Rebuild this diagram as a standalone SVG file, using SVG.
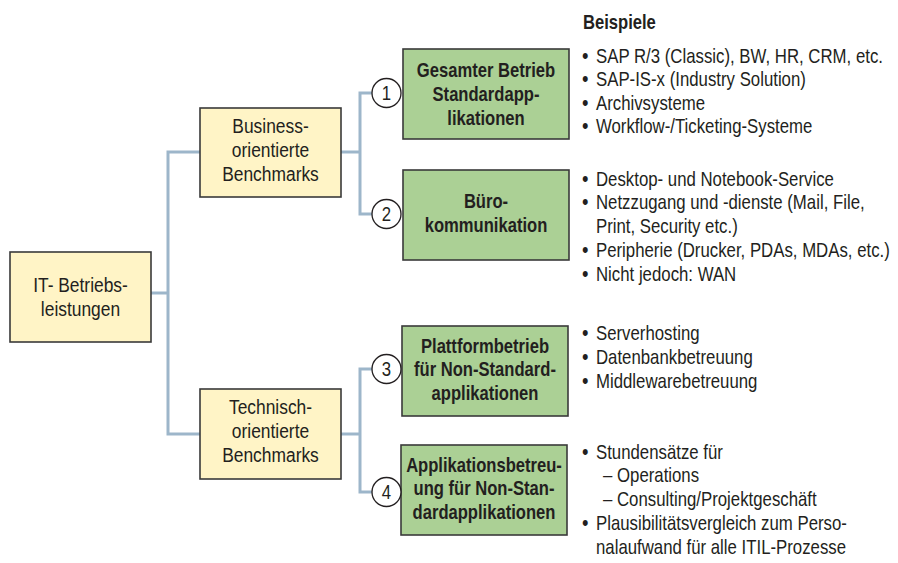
<svg xmlns="http://www.w3.org/2000/svg" width="898" height="563" viewBox="0 0 898 563">
<style>
text{font-family:"Liberation Sans",Arial,sans-serif;font-size:20px;fill:#231f20;transform-box:fill-box;transform-origin:0 50%;transform:scaleX(0.84)}
.c{text-anchor:middle;transform-origin:50% 50%}
.k{transform:scaleX(0.87)}
.b{font-weight:bold;transform:scaleX(0.83)}
.d{font-size:22px}
.y{fill:#fff4c6;stroke:#3a3a3a;stroke-width:1.6}
.g{fill:#abd095;stroke:#3a3a3a;stroke-width:1.6}
.n{fill:#fff;stroke:#231f20;stroke-width:1.3}
.con{fill:none;stroke:#9db6ca;stroke-width:3}
</style>
<rect width="898" height="563" fill="#fff"/>
<g id="connectors" class="con">
<path d="M151 293H168"/>
<path d="M200 152H168V434H200"/>
<path d="M341 152H360"/>
<path d="M372 93H360V214H372"/>
<path d="M341 434H360"/>
<path d="M372 369H360V492H372"/>
</g>
<g id="it">
<rect class="y" x="10" y="252" width="141" height="90"/>
<text class="c k" x="80.5" y="292">IT- Betriebs-</text>
<text class="c k" x="80.5" y="316">leistungen</text>
</g>
<g id="business">
<rect class="y" x="200" y="108" width="141" height="89"/>
<text class="c k" x="270.5" y="133">Business-</text>
<text class="c k" x="270.5" y="157">orientierte</text>
<text class="c k" x="270.5" y="181">Benchmarks</text>
</g>
<g id="technisch">
<rect class="y" x="200" y="389" width="141" height="90"/>
<text class="c k" x="270.5" y="414">Technisch-</text>
<text class="c k" x="270.5" y="438">orientierte</text>
<text class="c k" x="270.5" y="462">Benchmarks</text>
</g>
<g id="n1">
<rect class="g" x="403" y="49" width="166" height="90"/>
<text class="c b" x="486" y="77">Gesamter Betrieb</text>
<text class="c b" x="486" y="101">Standardapp-</text>
<text class="c b" x="486" y="125">likationen</text>
<circle class="n" cx="386.5" cy="93" r="14.5"/>
<text class="c" x="386.5" y="100">1</text>
</g>
<g id="n2">
<rect class="g" x="403" y="170" width="166" height="90"/>
<text class="c b" x="486" y="208">Büro-</text>
<text class="c b" x="486" y="232">kommunikation</text>
<circle class="n" cx="386.5" cy="214" r="14.5"/>
<text class="c" x="386.5" y="221">2</text>
</g>
<g id="n3">
<rect class="g" x="402" y="326" width="166" height="90"/>
<text class="c b" x="485" y="353">Plattformbetrieb</text>
<text class="c b" x="485" y="376.5">für Non-Standard-</text>
<text class="c b" x="485" y="400">applikationen</text>
<circle class="n" cx="386.5" cy="369" r="14.5"/>
<text class="c" x="386.5" y="376">3</text>
</g>
<g id="n4">
<rect class="g" x="401" y="445" width="166" height="90"/>
<text class="c b" x="484" y="472">Applikationsbetreu-</text>
<text class="c b" x="484" y="495.5">ung für Non-Stan-</text>
<text class="c b" x="484" y="519">dardapplikationen</text>
<circle class="n" cx="386.5" cy="492" r="14.5"/>
<text class="c" x="386.5" y="499">4</text>
</g>
<g id="beispiele">
<text class="b" x="583" y="29">Beispiele</text>
<text class="d" x="582" y="63">•</text><text x="596" y="63">SAP R/3 (Classic), BW, HR, CRM, etc.</text>
<text class="d" x="582" y="86.5">•</text><text x="596" y="86.5">SAP-IS-x (Industry Solution)</text>
<text class="d" x="582" y="110">•</text><text x="596" y="110">Archivsysteme</text>
<text class="d" x="582" y="133.5">•</text><text x="596" y="133.5">Workflow-/Ticketing-Systeme</text>
<text class="d" x="582" y="186">•</text><text x="596" y="186">Desktop- und Notebook-Service</text>
<text class="d" x="582" y="209.5">•</text><text x="596" y="209.5">Netzzugang und -dienste (Mail, File,</text>
<text x="596" y="233">Print, Security etc.)</text>
<text class="d" x="582" y="257">•</text><text x="596" y="257">Peripherie (Drucker, PDAs, MDAs, etc.)</text>
<text class="d" x="582" y="281">•</text><text x="596" y="281">Nicht jedoch: WAN</text>
<text class="d" x="582" y="340">•</text><text x="596" y="340">Serverhosting</text>
<text class="d" x="582" y="364">•</text><text x="596" y="364">Datenbankbetreuung</text>
<text class="d" x="582" y="388">•</text><text x="596" y="388">Middlewarebetreuung</text>
<text class="d" x="582" y="459">•</text><text x="596" y="459">Stundensätze für</text>
<text x="603" y="482.5">– Operations</text>
<text x="603" y="506">– Consulting/Projektgeschäft</text>
<text class="d" x="582" y="530">•</text><text x="596" y="530">Plausibilitätsvergleich zum Perso-</text>
<text x="596" y="554">nalaufwand für alle ITIL-Prozesse</text>
</g>
</svg>
